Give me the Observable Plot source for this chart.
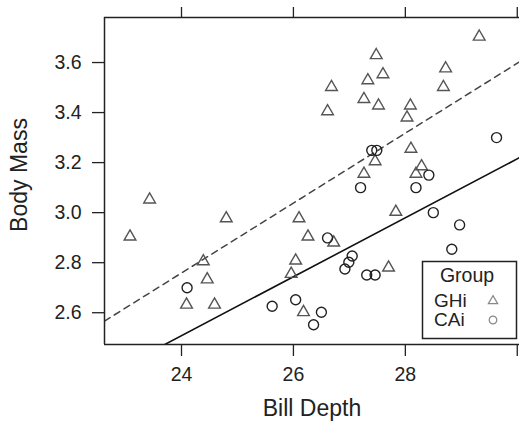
<!DOCTYPE html>
<html><head><meta charset="utf-8">
<script src="https://cdn.jsdelivr.net/npm/d3@7"></script>
<script src="https://cdn.jsdelivr.net/npm/@observablehq/plot@0.6"></script>
<style>
body{margin:0;background:#fff;}
#chart{position:relative;width:519px;height:428px;overflow:hidden;}
</style>
</head><body><div id="chart"></div>
<script>
// GHi group (triangles)
const ghiDepth = [29.32,27.48,27.60,27.33,26.68,28.72,28.68,27.26,27.52,26.61,28.09,28.03,28.10,27.46,27.26,28.29,28.19,
  23.43,23.08,24.80,24.39,24.46,24.09,24.59,26.10,26.26,26.72,26.04,25.96,26.18,27.83,27.70];
const ghiMass = [3.703,3.629,3.553,3.529,3.502,3.576,3.502,3.454,3.428,3.405,3.428,3.380,3.255,3.205,3.155,3.185,3.155,
  3.052,2.904,2.977,2.805,2.733,2.632,2.632,2.977,2.904,2.880,2.808,2.755,2.602,3.003,2.780];
// CAi group (circles)
const caiDepth = [27.40,27.49,29.63,28.42,27.20,28.19,28.50,28.97,28.83,26.61,27.05,26.99,26.92,27.31,27.46,24.10,25.62,26.04,26.50,26.36];
const caiMass = [3.249,3.249,3.300,3.150,3.100,3.100,3.000,2.951,2.854,2.899,2.827,2.802,2.775,2.751,2.751,2.700,2.626,2.652,2.602,2.552];
// fitted lines: GHi (dashed), CAi (solid)
const groups = ["GHi","CAi"];
const fitIntercept = [-0.594, -0.319];
const fitSlope = [0.1397, 0.1178];
const xTicks = [24,26,28,30];
const xTickLabels = ["24","26","28",""];
const yTicks = [2.6,2.8,3.0,3.2,3.4,3.6];
const xDomain = [22.624, 30.04];
const yDomain = [2.473, 3.780];
const xTitle = "Bill Depth";
const yTitle = "Body Mass";
const legendTitle = "Group";

const ghi = ghiDepth.map((d,i)=>({depth:d, mass:ghiMass[i]}));
const cai = caiDepth.map((d,i)=>({depth:d, mass:caiMass[i]}));
const fitLines = groups.flatMap((g,k)=>xDomain.map(x=>({group:g, depth:x, mass:fitIntercept[k]+fitSlope[k]*x})));

const ink = "#222";
const font = "'Liberation Sans', Arial, Helvetica, sans-serif";

const plot = Plot.plot({
  width: 519, height: 428,
  marginLeft: 104, marginRight: 0, marginTop: 17, marginBottom: 84,
  style: {fontFamily: font, fontSize: "19.5px", color: ink, background: "#fff"},
  x: {domain: xDomain},
  y: {domain: yDomain},
  marks: [
    Plot.line(fitLines.filter(d=>d.group==="GHi"), {x:"depth", y:"mass", stroke:"#444", strokeWidth:1.5, strokeDasharray:"6.5,5", clip:true}),
    Plot.line(fitLines.filter(d=>d.group==="CAi"), {x:"depth", y:"mass", stroke:"#111", strokeWidth:1.6, clip:true}),
    Plot.dot(ghi, {x:"depth", y:"mass", symbol:"triangle", r:4.35, stroke:"#555", strokeWidth:1.4, fill:"none"}),
    Plot.dot(cai, {x:"depth", y:"mass", symbol:"circle", r:5, stroke:"#222", strokeWidth:1.4, fill:"none"}),
    Plot.ruleY([yDomain[0], yDomain[1]], {stroke: ink, strokeWidth: 1.5}),
    Plot.ruleX([xDomain[0]], {stroke: ink, strokeWidth: 1.5}),
    Plot.axisX({anchor:"bottom", ticks: xTicks, tickSize: 12, tickPadding: 11, strokeWidth: 1.3,
      tickFormat: d => xTickLabels[xTicks.indexOf(d)], label: null}),
    Plot.axisX({anchor:"top", ticks: xTicks, tickSize: 11, strokeWidth: 1.3, tickFormat: () => "", label: null}),
    Plot.axisY({anchor:"left", ticks: yTicks, tickSize: 12, tickPadding: 11, strokeWidth: 1.3,
      tickFormat: d3.format(".1f"), label: null}),
    Plot.text([xTitle], {frameAnchor:"bottom", dy: 71.6, fontSize: 23, fill: ink})
  ]
});
document.getElementById("chart").appendChild(plot);

const svg = d3.select(plot);
// y-axis title
svg.append("text").attr("transform", "translate(19.6,175) rotate(-90)")
  .attr("text-anchor", "middle").attr("dy", "0.32em").attr("font-family", font)
  .attr("font-size", 23).attr("fill", ink).text(yTitle);

// legend
const lg = svg.append("g").attr("font-family", font).attr("fill", ink).attr("text-anchor", "start");
lg.append("rect").attr("x", 422.5).attr("y", 261.5).attr("width", 94).attr("height", 77)
  .attr("fill", "#fff").attr("stroke", ink).attr("stroke-width", 1.5);
lg.append("text").attr("x", 467).attr("y", 282).attr("text-anchor", "middle").attr("font-size", 19.5).text(legendTitle);
const legSym = [d3.symbolTriangle, d3.symbolCircle];
const legSize = [38, 46];
groups.forEach((g, i) => {
  const yy = [307, 326][i];
  lg.append("text").attr("x", 434).attr("y", yy).attr("font-size", 19).attr("text-anchor", "start").text(g);
  lg.append("path").attr("transform", `translate(493,${yy - 6})`)
    .attr("d", d3.symbol(legSym[i], legSize[i])())
    .attr("fill", "none").attr("stroke", "#888").attr("stroke-width", 1.2);
});
</script>
</body></html>
